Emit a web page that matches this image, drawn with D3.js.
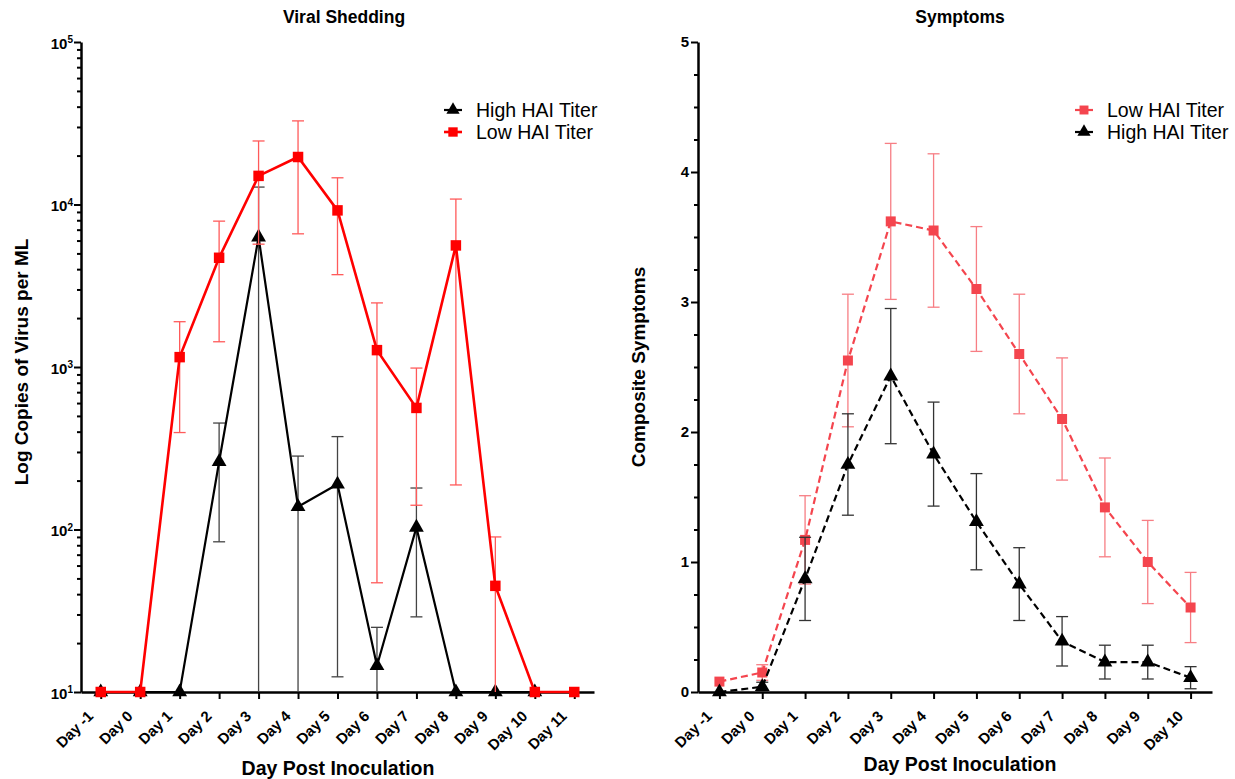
<!DOCTYPE html>
<html>
<head>
<meta charset="utf-8" />
<title>Viral Shedding and Symptoms</title>
<style>
  body {
    margin: 0;
    background: #fff;
  }
  svg {
    display: block;
    font-family: "Liberation Sans", Arial, Helvetica, sans-serif;
  }
</style>
</head>
<body>
<script src="https://cdn.jsdelivr.net/npm/d3@7"></script>
<script>
// ---------------- data: viral shedding (copies per mL) ----------------
const shedDays = [-1, 0, 1, 2, 3, 4, 5, 6, 7, 8, 9, 10, 11];
const shedLow = [10, 10, 1150, 4700, 15000, 19600, 9200, 1270, 560, 5600, 45, 10, 10];
const shedLowUpper = [null, null, 1900, 7900, 24600, 32700, 14600, 2480, 985, 10800, 90, null, null];
const shedLowLower = [null, null, 395, 1430, 5700, 6600, 3700, 47, 141, 188, 10, null, null];

const shedHighDays = [-1, 0, 1, 2, 3, 4, 5, 6, 7, 8, 9, 10];
const shedHigh = [10, 10, 10, 261, 6300, 138, 190, 14.5, 103, 10, 10, 10];
const shedHighUpper = [null, null, null, 452, 12800, 283, 373, 25, 180, null, null, null];
const shedHighLower = [null, null, null, 84, 10, 10, 12.4, 10, 29, null, null, null];

// ---------------- data: composite symptoms (mean, sem) ----------------
const symDays = [-1, 0, 1, 2, 3, 4, 5, 6, 7, 8, 9, 10];
const symLow = [0.08, 0.15, 1.17, 2.55, 3.62, 3.55, 3.1, 2.6, 2.1, 1.42, 1.0, 0.65];
const symLowErr = [0, 0.06, 0.34, 0.51, 0.6, 0.59, 0.48, 0.46, 0.47, 0.38, 0.32, 0.27];
const symHigh = [0, 0.04, 0.87, 1.75, 2.43, 1.83, 1.31, 0.83, 0.39, 0.23, 0.23, 0.11];
const symHighErr = [0, 0.035, 0.32, 0.39, 0.52, 0.4, 0.37, 0.28, 0.19, 0.13, 0.13, 0.085];

const seriesNames = ["High HAI Titer", "Low HAI Titer"];
const shedTicks = [1, 2, 3, 4].flatMap((k) => d3.range(1, 10).map((m) => m * Math.pow(10, k))).concat([1e5]);
const symTicks = d3.range(0, 21).map((i) => i / 4);

const svg = d3.select("body").append("svg").attr("width", 1235).attr("height", 779);

function styleXAxis(g) {
  g.attr("font-family", null).attr("font-size", null);
  g.select(".domain").attr("stroke", "#000").attr("stroke-width", 2.5);
  g.selectAll(".tick line").attr("stroke", "#000").attr("stroke-width", 2);
  g.selectAll(".tick text")
    .attr("y", null)
    .attr("dy", null)
    .attr("text-anchor", "end")
    .attr("transform", "translate(-7,25) rotate(-45)")
    .attr("font-size", 15)
    .attr("font-weight", "bold")
    .attr("fill", "#000");
}

function styleYAxis(g, isMajor) {
  g.attr("font-family", null).attr("font-size", null);
  g.select(".domain").attr("stroke", "#000").attr("stroke-width", 2.5);
  g.selectAll(".tick line").attr("stroke", "#000").attr("stroke-width", 2);
  g.selectAll(".tick")
    .filter((d) => !isMajor(d))
    .select("line")
    .attr("x2", -4);
  g.selectAll(".tick text").attr("font-size", 15).attr("font-weight", "bold").attr("fill", "#000");
}

function drawSeries(parent, x, y, pts, s) {
  const g = parent.append("g");
  const withBars = pts.filter((p) => p.hi != null);
  const bars = g.append("g").attr("stroke", s.bar).attr("stroke-width", 1.3).attr("fill", "none");
  bars
    .selectAll("line.stem")
    .data(withBars)
    .join("line")
    .attr("class", "stem")
    .attr("x1", (p) => x(p.day))
    .attr("x2", (p) => x(p.day))
    .attr("y1", (p) => y(p.lo))
    .attr("y2", (p) => y(p.hi));
  bars
    .selectAll("line.top")
    .data(withBars)
    .join("line")
    .attr("class", "top")
    .attr("x1", (p) => x(p.day) - 6)
    .attr("x2", (p) => x(p.day) + 6)
    .attr("y1", (p) => y(p.hi))
    .attr("y2", (p) => y(p.hi));
  bars
    .selectAll("line.bottom")
    .data(withBars.filter((p) => p.lo > y.domain()[0]))
    .join("line")
    .attr("class", "bottom")
    .attr("x1", (p) => x(p.day) - 6)
    .attr("x2", (p) => x(p.day) + 6)
    .attr("y1", (p) => y(p.lo))
    .attr("y2", (p) => y(p.lo));

  g.append("path")
    .datum(pts)
    .attr("fill", "none")
    .attr("stroke", s.color)
    .attr("stroke-width", s.width)
    .attr("stroke-dasharray", s.dash)
    .attr("d", d3.line().x((p) => x(p.day)).y((p) => y(p.v)));

  g.selectAll("path.mark")
    .data(pts)
    .join("path")
    .attr("class", "mark")
    .attr("transform", (p) => `translate(${x(p.day)},${y(p.v)})`)
    .attr("fill", s.color)
    .attr("d", d3.symbol().type(s.shape).size(s.size));
}

function legendItem(g, lx, ly, label, s) {
  g.append("line")
    .attr("x1", lx - 9)
    .attr("x2", lx + 9)
    .attr("y1", ly)
    .attr("y2", ly)
    .attr("stroke", s.color)
    .attr("stroke-width", s.width);
  g.append("path")
    .attr("transform", `translate(${lx},${ly})`)
    .attr("fill", s.color)
    .attr("d", d3.symbol().type(s.shape).size(s.size * 0.8));
  g.append("text")
    .attr("x", lx + 23)
    .attr("y", ly)
    .attr("dy", "0.35em")
    .attr("font-size", 19.5)
    .attr("fill", "#000")
    .text(label);
}

//---------------- left panel: viral shedding ----------------
const xL = d3.scaleLinear().domain([-1.5, 11.5]).range([81, 594]);
const yL = d3.scaleLog().domain([10, 1e5]).range([692, 42]);
const isDecade = (d) => Math.abs(Math.log10(d) - Math.round(Math.log10(d))) < 1e-9;

const left = svg.append("g");

left.append("g")
  .attr("transform", "translate(0,692)")
  .call(d3.axisBottom(xL).tickValues(shedDays).tickSize(7).tickSizeOuter(0).tickFormat((d) => "Day " + d))
  .call(styleXAxis);

const yAxisL = left.append("g")
  .attr("transform", "translate(81,0)")
  .call(d3.axisLeft(yL).tickValues(shedTicks).tickSize(7).tickSizeOuter(0).tickPadding(1).tickFormat(""))
  .call((g) => styleYAxis(g, isDecade));

yAxisL.selectAll(".tick")
  .filter(isDecade)
  .select("text")
  .attr("dy", "0.4em")
  .attr("text-anchor", "end")
  .each(function (d) {
    const t = d3.select(this);
    t.append("tspan").text("10");
    t.append("tspan").attr("dy", "-0.55em").attr("font-size", 10).text(Math.round(Math.log10(d)));
  });

const highShedStyle = { color: "#000", bar: "#444", width: 2.2, dash: null, shape: d3.symbolTriangle, size: 95 };
const lowShedStyle = { color: "#ff0000", bar: "#ff5a5a", width: 2.6, dash: null, shape: d3.symbolSquare, size: 110 };

drawSeries(left, xL, yL,
  shedHighDays.map((d, i) => ({ day: d, v: shedHigh[i], hi: shedHighUpper[i], lo: shedHighLower[i] })),
  highShedStyle);
drawSeries(left, xL, yL,
  shedDays.map((d, i) => ({ day: d, v: shedLow[i], hi: shedLowUpper[i], lo: shedLowLower[i] })),
  lowShedStyle);

legendItem(left, 453, 110, seriesNames[0], highShedStyle);
legendItem(left, 453, 132, seriesNames[1], lowShedStyle);

left.append("text")
  .attr("x", 344)
  .attr("y", 23)
  .attr("text-anchor", "middle")
  .attr("font-size", 17.5)
  .attr("font-weight", "bold")
  .text("Viral Shedding");

left.append("text")
  .attr("x", 338)
  .attr("y", 775)
  .attr("text-anchor", "middle")
  .attr("font-size", 19.5)
  .attr("font-weight", "bold")
  .text("Day Post Inoculation");

left.append("text")
  .attr("transform", "translate(28,362) rotate(-90)")
  .attr("text-anchor", "middle")
  .attr("font-size", 19)
  .attr("font-weight", "bold")
  .text("Log Copies of Virus per ML");

//---------------- right panel: symptoms ----------------
const xR = d3.scaleLinear().domain([-1.5, 10.5]).range([698, 1212]);
const yR = d3.scaleLinear().domain([0, 5]).range([692, 42]);

const right = svg.append("g");

right.append("g")
  .attr("transform", "translate(0,692)")
  .call(d3.axisBottom(xR).tickValues(symDays).tickSize(7).tickSizeOuter(0).tickFormat((d) => "Day " + d))
  .call(styleXAxis);

right.append("g")
  .attr("transform", "translate(698,0)")
  .call(d3.axisLeft(yR).tickValues(symTicks).tickSize(7).tickSizeOuter(0).tickPadding(2)
    .tickFormat((d) => (Number.isInteger(d) ? d : "")))
  .call((g) => styleYAxis(g, (d) => Number.isInteger(d)));

const lowSymStyle = { color: "#f4454e", bar: "#f77e84", width: 2.2, dash: "7,4", shape: d3.symbolSquare, size: 100 };
const highSymStyle = { color: "#000", bar: "#333", width: 2.2, dash: "7,4", shape: d3.symbolTriangle, size: 95 };

drawSeries(right, xR, yR,
  symDays.map((d, i) => ({ day: d, v: symLow[i], hi: symLowErr[i] ? symLow[i] + symLowErr[i] : null, lo: Math.max(0, symLow[i] - symLowErr[i]) })),
  lowSymStyle);
drawSeries(right, xR, yR,
  symDays.map((d, i) => ({ day: d, v: symHigh[i], hi: symHighErr[i] ? symHigh[i] + symHighErr[i] : null, lo: Math.max(0, symHigh[i] - symHighErr[i]) })),
  highSymStyle);

legendItem(right, 1084, 110, seriesNames[1], lowSymStyle);
legendItem(right, 1084, 132, seriesNames[0], highSymStyle);

right.append("text")
  .attr("x", 960)
  .attr("y", 23)
  .attr("text-anchor", "middle")
  .attr("font-size", 17.5)
  .attr("font-weight", "bold")
  .text("Symptoms");

right.append("text")
  .attr("x", 960)
  .attr("y", 771)
  .attr("text-anchor", "middle")
  .attr("font-size", 19.5)
  .attr("font-weight", "bold")
  .text("Day Post Inoculation");

right.append("text")
  .attr("transform", "translate(645,367) rotate(-90)")
  .attr("text-anchor", "middle")
  .attr("font-size", 19)
  .attr("font-weight", "bold")
  .text("Composite Symptoms");
</script>
</body>
</html>
